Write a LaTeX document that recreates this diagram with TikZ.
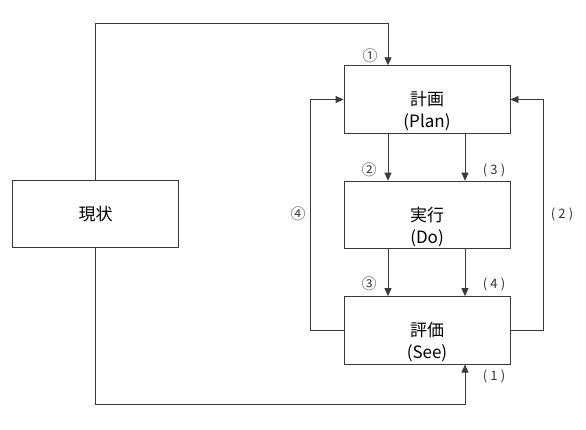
\documentclass[tikz,border=0pt]{standalone}
\usepackage{fontspec}
\setmainfont{Noto Sans CJK JP}
\usetikzlibrary{arrows.meta, positioning}
\definecolor{linegray}{HTML}{3A3A3A}

\begin{document}
\begin{tikzpicture}[
    x=1pt, y=1pt,
    node distance=47pt and 47pt,
    block/.style={rectangle, draw=linegray, line width=0.9pt, fill=white, minimum width=166pt, minimum height=67.5pt, font=\fontsize{17}{22}\selectfont, align=center, inner sep=0pt},
    stage/.style={block, text height=61pt, text depth=4pt},
    num/.style={font=\fontsize{15}{16}\selectfont, text=black!75},
    par/.style={font=\fontsize{13}{15}\selectfont\addfontfeature{LetterSpace=25}, text=black!80},
    arrow/.style={draw=linegray, line width=0.9pt, -{Triangle[length=8pt,width=7pt]}}
]
    \useasboundingbox (0,0) rectangle (586,429);

    \node[block] (genjo) at (95.5,215) {現状};
    \node[stage] (keikaku) at (427,329.5) {計画\\(Plan)};
    \node[stage, below=of keikaku] (jikko) {実行\\(Do)};
    \node[stage, below=of jikko] (hyoka) {評価\\(See)};

    % current state -> plan / see
    \draw[arrow] (genjo.north) -- ++(0,156) -| ([xshift=-39pt]keikaku.north);
    \draw[arrow] (genjo.south) -- ++(0,-156) -| ([xshift=38pt]hyoka.south);

    % downward flow
    \draw[arrow] ([xshift=-39pt]keikaku.south) -- ([xshift=-39pt]jikko.north);
    \draw[arrow] ([xshift=38pt]keikaku.south) -- ([xshift=38pt]jikko.north);
    \draw[arrow] ([xshift=-39pt]jikko.south) -- ([xshift=-39pt]hyoka.north);
    \draw[arrow] ([xshift=38pt]jikko.south) -- ([xshift=38pt]hyoka.north);

    % feedback loops
    \draw[arrow] (hyoka.west) -- ++(-33,0) |- (keikaku.west);
    \draw[arrow] (hyoka.east) -- ++(33,0) |- (keikaku.east);

    \node[num] (c1) at (370,373) {①};
    \node[num] (c2) at (369,259) {②};
    \node[num] (c3) at (369,145) {③};
    \node[num] (c4) at (298,215) {④};
    \node[par] (p1) at (494,53) {(1)};
    \node[par] (p2) at (562,215) {(2)};
    \node[par] (p3) at (494,259) {(3)};
    \node[par] (p4) at (494,145) {(4)};
\end{tikzpicture}
\end{document}
